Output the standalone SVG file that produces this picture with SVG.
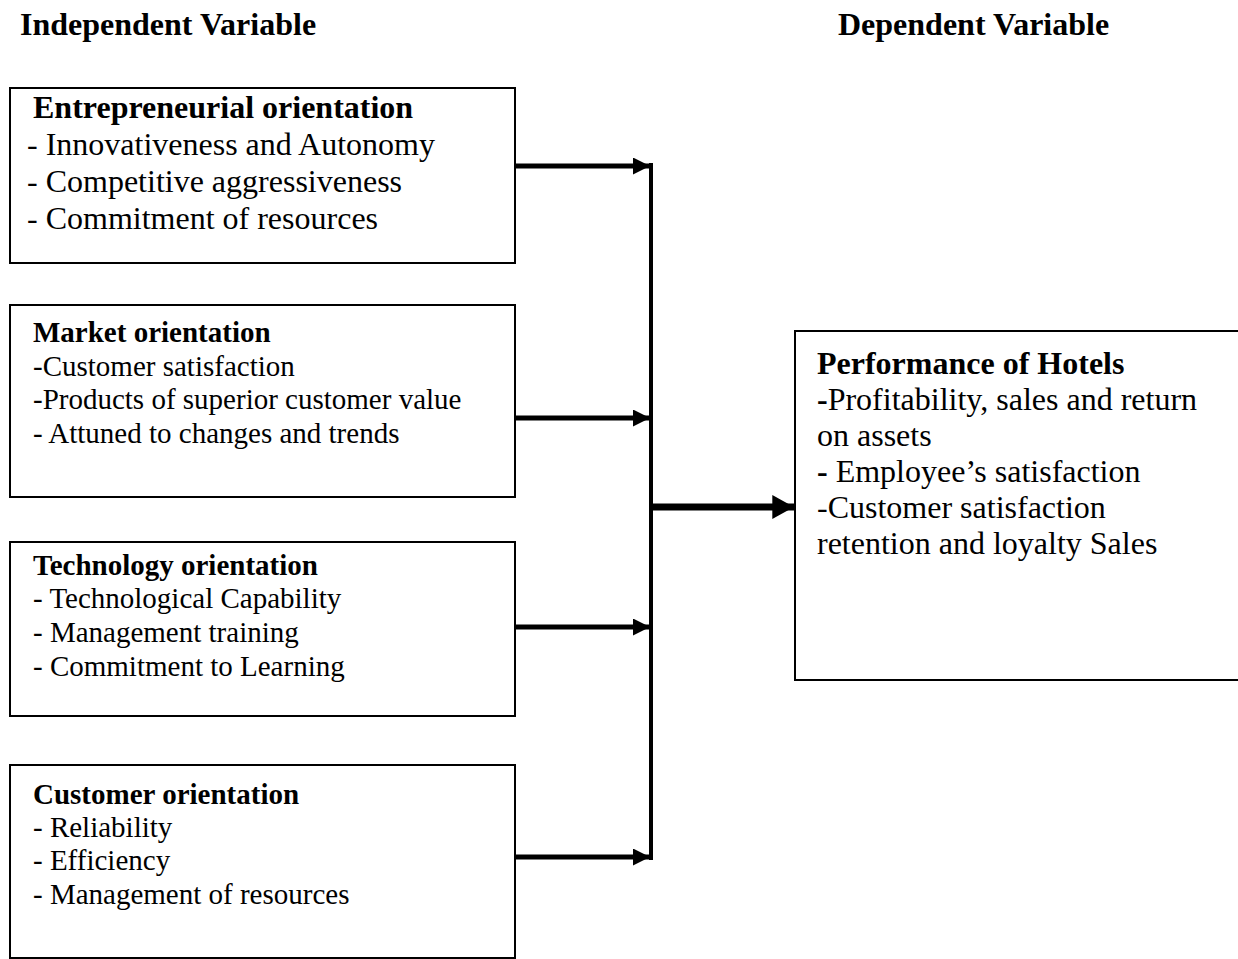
<svg xmlns="http://www.w3.org/2000/svg" width="1238" height="959" viewBox="0 0 1238 959">
<style>
text{font-family:"Liberation Serif","Times New Roman",serif;fill:#000}
.h{font-weight:bold;font-size:32px}
.b{font-weight:bold}
.l{font-size:32px}
.s{font-size:29px}
.box{fill:#fff;stroke:#000;stroke-width:2}
.ln{stroke:#000;fill:none}
</style>
<defs>
<marker id="ah" markerWidth="3.4" markerHeight="3.4" refX="3.4" refY="1.7" orient="auto" markerUnits="strokeWidth"><path d="M0,0 L3.4,1.7 L0,3.4 Z" fill="#000"/></marker>
<marker id="ahm" markerWidth="3.1" markerHeight="3.4" refX="3.1" refY="1.7" orient="auto" markerUnits="strokeWidth"><path d="M0,0 L3.1,1.7 L0,3.4 Z" fill="#000"/></marker>
</defs>
<text class="h" x="20" y="35">Independent Variable</text>
<text class="h" x="838" y="35">Dependent Variable</text>
<g id="entrepreneurial">
<rect class="box" x="10" y="88" width="505" height="175"/>
<text class="l" x="33" y="118"><tspan class="b">Entrepreneurial orientation</tspan><tspan x="27" dy="37">- Innovativeness and Autonomy</tspan><tspan x="27" dy="37">- Competitive aggressiveness</tspan><tspan x="27" dy="37">- Commitment of resources</tspan></text>
</g>
<g id="market">
<rect class="box" x="10" y="305" width="505" height="192"/>
<text class="s" x="33" y="342"><tspan class="b">Market orientation</tspan><tspan x="33" dy="33.5">-Customer satisfaction</tspan><tspan x="33" dy="33.5">-Products of superior customer value</tspan><tspan x="33" dy="33.5">- Attuned to changes and trends</tspan></text>
</g>
<g id="technology">
<rect class="box" x="10" y="542" width="505" height="174"/>
<text class="s" x="33" y="575"><tspan class="b">Technology orientation</tspan><tspan x="33" dy="33">- Technological Capability</tspan><tspan x="33" dy="34">- Management training</tspan><tspan x="33" dy="34">- Commitment to Learning</tspan></text>
</g>
<g id="customer">
<rect class="box" x="10" y="765" width="505" height="193"/>
<text class="s" x="33" y="804"><tspan class="b">Customer orientation</tspan><tspan x="33" dy="33">- Reliability</tspan><tspan x="33" dy="33">- Efficiency</tspan><tspan x="33" dy="34">- Management of resources</tspan></text>
</g>
<g id="performance">
<rect class="box" x="795" y="331" width="460" height="349"/>
<text class="l" x="817" y="374"><tspan class="b">Performance of Hotels</tspan><tspan x="817" dy="36"><tspan class="b">-</tspan>Profitability, sales and return</tspan><tspan x="817" dy="36">on assets</tspan><tspan x="817" dy="36"><tspan class="b">-</tspan> Employee’s satisfaction</tspan><tspan x="817" dy="36">-Customer satisfaction</tspan><tspan x="817" dy="36">retention and loyalty Sales</tspan></text>
</g>
<g id="connectors">
<line class="ln" x1="651" y1="163" x2="651" y2="860" stroke-width="4"/>
<line class="ln" x1="515" y1="166" x2="650" y2="166" stroke-width="5" marker-end="url(#ah)"/>
<line class="ln" x1="515" y1="418" x2="650" y2="418" stroke-width="5" marker-end="url(#ah)"/>
<line class="ln" x1="515" y1="627" x2="650" y2="627" stroke-width="5" marker-end="url(#ah)"/>
<line class="ln" x1="515" y1="857" x2="650" y2="857" stroke-width="5" marker-end="url(#ah)"/>
<line class="ln" x1="653" y1="507" x2="794" y2="507" stroke-width="7" marker-end="url(#ahm)"/>
</g>
</svg>
